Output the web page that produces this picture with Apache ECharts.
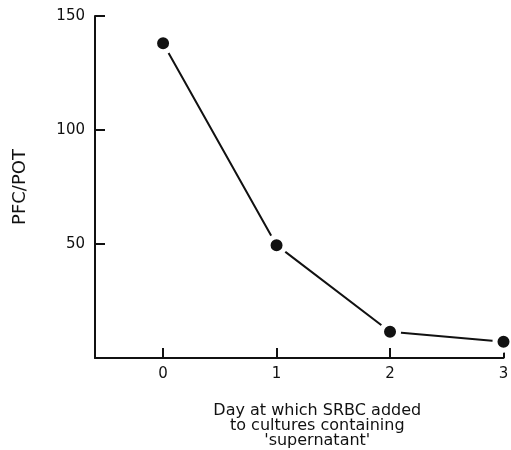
<!DOCTYPE html>
<html>
<head>
<meta charset="utf-8">
<script src="https://cdn.jsdelivr.net/npm/echarts@6/dist/echarts.min.js"></script>
<style>
  html, body { margin: 0; padding: 0; background: #fff; }
  #chart { width: 511px; height: 450px; }
</style>
</head>
<body>
<div id="chart"></div>
<script>
// Day on which SRBC were added, and the PFC/POT response measured
const days = [0, 1, 2, 3];
const pfcPerPot = [138, 49.5, 11.5, 7.1];
const yTicks = [50, 100, 150];
const xTicks = [0, 1, 2, 3];

const FONT = '"DejaVu Sans", sans-serif';
const INK = '#111';

const chart = echarts.init(document.getElementById('chart'), null, { renderer: 'canvas' });

chart.setOption({
  animation: false,
  backgroundColor: '#fff',
  grid: { left: 95, right: 7.5, top: 16, bottom: 92, containLabel: false, outerBoundsMode: 'none' },
  xAxis: {
    type: 'value',
    min: -0.6,
    max: 3,
    splitLine: { show: false },
    axisLine: { show: true, onZero: false, lineStyle: { color: INK, width: 2 } },
    axisTick: { show: true, inside: true, length: 10, customValues: xTicks, lineStyle: { color: INK, width: 2 } },
    axisLabel: { customValues: xTicks, color: INK, fontFamily: FONT, fontSize: 15, margin: 9 },
    name: 'Day at which SRBC added\nto cultures containing\n\'supernatant\'',
    nameLocation: 'middle',
    nameGap: 45,
    nameTextStyle: {
      color: INK, fontFamily: FONT, fontSize: 16, lineHeight: 15,
      align: 'center', verticalAlign: 'top', padding: [0, 0, 0, 36]
    }
  },
  yAxis: {
    type: 'value',
    min: 0,
    max: 150,
    splitLine: { show: false },
    axisLine: { show: true, onZero: false, lineStyle: { color: INK, width: 2 } },
    axisTick: { show: true, inside: true, length: 10, customValues: yTicks, lineStyle: { color: INK, width: 2 } },
    axisLabel: { customValues: yTicks, color: INK, fontFamily: FONT, fontSize: 15, margin: 10 },
    name: 'PFC/POT',
    nameLocation: 'middle',
    nameGap: 66,
    nameRotate: 90,
    nameTextStyle: { color: INK, fontFamily: FONT, fontSize: 18 }
  },
  series: [{
    type: 'line',
    data: days.map((d, i) => [d, pfcPerPot[i]]),
    symbol: 'circle',
    symbolSize: 17,
    itemStyle: { color: INK, borderColor: '#fff', borderWidth: 5 },
    lineStyle: { color: INK, width: 2 },
    clip: false,
    z: 3
  }]
});
</script>
</body>
</html>
